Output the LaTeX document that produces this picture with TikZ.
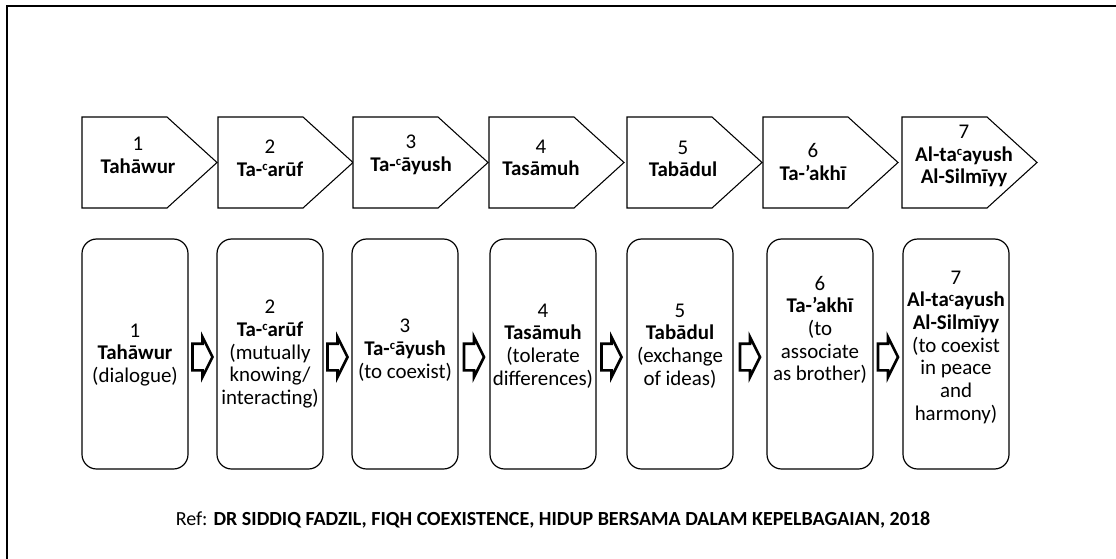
\documentclass[tikz,border=0pt]{standalone}
\usepackage{fontspec}
\setmainfont{Carlito}
\usetikzlibrary{calc}
\newcommand{\ain}{\raisebox{0.55ex}{\fontsize{9.5}{9.5}\selectfont c}}
\tikzset{
  frame/.style={line width=1.6pt, draw=black},
  pent/.style={draw, fill=white, line width=0.8pt},
  rbox/.style={draw, rounded corners=11pt, line width=0.9pt, minimum width=79.5pt, minimum height=172.5pt, inner sep=0pt},
  txt/.style={align=center, font=\fontsize{15.7}{17}\selectfont, inner sep=0pt},
  reftxt/.style={font=\fontsize{15}{18}\selectfont, inner sep=0pt},
  blockarrow/.style={draw, fill=white, line width=0.6pt},
  arrowedge/.style={line width=2pt},
}
% pentagon: #1 left x
\newcommand{\pentagon}[1]{%
  \draw[pent] (#1,117) -- (#1+85,117) -- (#1+135,162.5) -- (#1+85,208) -- (#1,208) -- cycle;}
% block arrow between two named boxes
\newcommand{\blockarr}[2]{%
  \path let \p1 = ($(#1.east)!0.5!(#2.west)+(0,-2.25pt)$) in
    [blockarrow] (\x1-7.5pt,\y1+10pt) -- (\x1,\y1+10pt) -- (\x1,\y1+15pt) -- (\x1+7.5pt,\y1)
    -- (\x1,\y1-15pt) -- (\x1,\y1-10pt) -- (\x1-7.5pt,\y1-10pt) -- cycle
    [arrowedge] (\x1-7.5pt,\y1+10pt) -- (\x1-7.5pt,\y1-10pt);}
\begin{document}
\begin{tikzpicture}[x=0.75pt,y=-0.75pt]
\useasboundingbox (0,0) rectangle (1116,558);
\clip (0,0) rectangle (1116,558);
\draw[frame] (7,6) rectangle (1130,575);

% top row pentagons
\pentagon{82}
\pentagon{218}
\pentagon{353}
\pentagon{489}
\pentagon{627}
\pentagon{763}
\pentagon{902}
\node[txt] (t1) at (138,155) {1\\\textbf{Tahāwur}};
\node[txt] (t2) at (270,158) {2\\\textbf{Ta-\ain arūf}};
\node[txt] (t3) at (411,155) {3\\\textbf{Ta-\ain āyush}};
\node[txt] (t4) at (541,158) {4\\\textbf{Tasāmuh}};
\node[txt] (t5) at (683,159) {5\\\textbf{Tabādul}};
\node[txt] (t6) at (813,162) {6\\\textbf{Ta-’akhī}};
\node[txt] (t7) at (964,156) {7\\\textbf{Al-ta\ain ayush}\\\textbf{Al-Silmīyy}};

% bottom row boxes
\node[rbox] (b1) at (135,354) {};
\node[rbox] (b2) at (270,354) {};
\node[rbox] (b3) at (405,354) {};
\node[rbox] (b4) at (543,354) {};
\node[rbox] (b5) at (680,354) {};
\node[rbox] (b6) at (820,354) {};
\node[rbox] (b7) at (956,354) {};

\node[txt] (d1) at (b1.center |- 0,355) {1\\\textbf{Tahāwur}\\(dialogue)};
\node[txt] (d2) at (b2.center |- 0,354) {2\\\textbf{Ta-\ain arūf}\\(mutually\\knowing/\\interacting)};
\node[txt] (d3) at (b3.center |- 0,350) {3\\\textbf{Ta-\ain āyush}\\(to coexist)};
\node[txt] (d4) at (b4.center |- 0,346) {4\\\textbf{Tasāmuh}\\(tolerate\\differences)};
\node[txt] (d5) at (b5.center |- 0,346) {5\\\textbf{Tabādul}\\(exchange\\of ideas)};
\node[txt] (d6) at (b6.center |- 0,330) {6\\\textbf{Ta-’akhī}\\(to\\associate\\as brother)};
\node[txt] (d7) at (b7.center |- 0,347) {7\\\textbf{Al-ta\ain ayush}\\\textbf{Al-Silmīyy}\\(to coexist\\in peace\\and\\harmony)};

\blockarr{b1}{b2}
\blockarr{b2}{b3}
\blockarr{b3}{b4}
\blockarr{b4}{b5}
\blockarr{b5}{b6}
\blockarr{b6}{b7}

\node[reftxt] (ref) at (553,520) {Ref: \textbf{DR SIDDIQ FADZIL, FIQH COEXISTENCE, HIDUP BERSAMA DALAM KEPELBAGAIAN, 2018}};
\end{tikzpicture}
\end{document}
